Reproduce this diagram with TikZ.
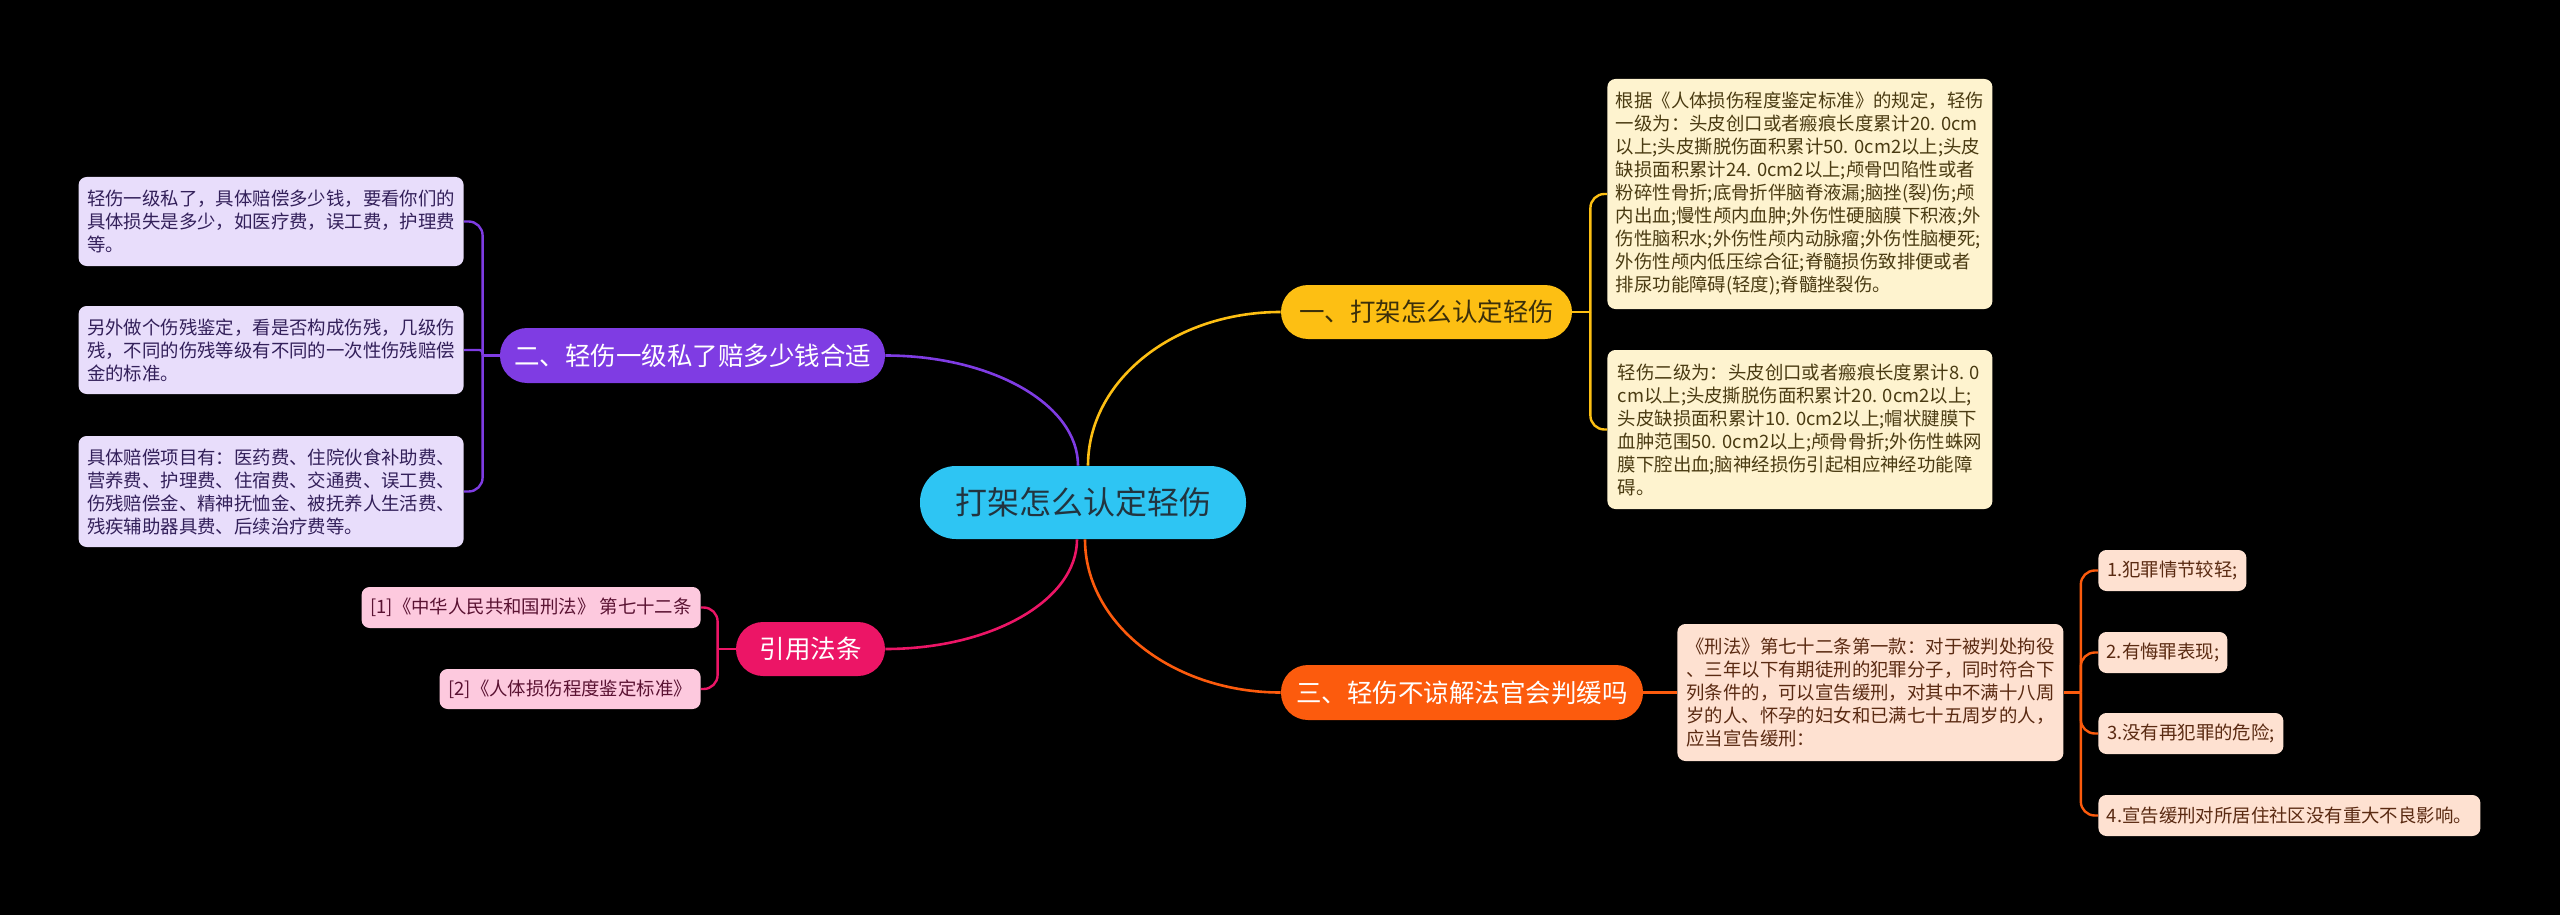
\documentclass[tikz,border=0pt]{standalone}
\usepackage{fontspec}
\setmainfont{Noto Sans CJK SC}
\definecolor{cyanc}{HTML}{2EC5F3}
\definecolor{cyanT}{HTML}{22343F}
\definecolor{yel}{HTML}{FDBF13}
\definecolor{yelT}{HTML}{3B2F0A}
\definecolor{pur}{HTML}{7F3CE3}
\definecolor{pnk}{HTML}{EC1566}
\definecolor{org}{HTML}{FC5B0D}
\definecolor{yelL}{HTML}{FEF3CF}
\definecolor{yelLT}{HTML}{4A3B12}
\definecolor{purL}{HTML}{E8DDFB}
\definecolor{purLT}{HTML}{33205A}
\definecolor{pnkL}{HTML}{FDC9DE}
\definecolor{pnkLT}{HTML}{5A1232}
\definecolor{orgL}{HTML}{FEE1D1}
\definecolor{orgLT}{HTML}{5A2A12}
\tikzset{
  leafbox/.style={rounded corners=4pt, inner xsep=4pt, inner ysep=0pt, align=left,
    font=\fontsize{9.2pt}{11.5pt}\selectfont},
  branchbox/.style={rounded corners=13.5pt, inner sep=0pt,
    font=\fontsize{12.75pt}{15pt}\selectfont},
  mainconn/.style={line width=1.3pt},
  brconn/.style={line width=1.2pt},
}
\begin{document}
\begin{tikzpicture}[x=0.5pt,y=-0.5pt]
\fill[black] (0,0) rectangle (2560,915);
\useasboundingbox (0,0) rectangle (2560,915);

% central and branch nodes
\node[fill=cyanc, text=cyanT, rounded corners=18pt, minimum width=163pt, minimum height=36.5pt,
  inner sep=0pt, font=\fontsize{16pt}{19pt}\selectfont] (c) at (1083,502.5) {打架怎么认定轻伤};
\node[branchbox, fill=yel, text=yelT, minimum width=145.5pt, minimum height=27pt] (n1) at (1426.5,312) {一、打架怎么认定轻伤};
\node[branchbox, fill=org, text=white, minimum width=181pt, minimum height=27.5pt] (n3) at (1462,692.5) {三、轻伤不谅解法官会判缓吗};
\node[branchbox, fill=pur, text=white, minimum width=192.5pt, minimum height=27.5pt] (n2) at (692.5,355.5) {二、轻伤一级私了赔多少钱合适};
\node[branchbox, fill=pnk, text=white, minimum width=74.5pt, minimum height=27pt] (n4) at (810.5,649) {引用法条};

% leaves of branch 1
\node[leafbox, fill=yelL, text=yelLT, anchor=west, minimum width=192.5pt, minimum height=115pt] (y1) at (1607,194)
{根据《人体损伤程度鉴定标准》的规定，轻伤\\一级为：头皮创口或者瘢痕长度累计20. 0cm\\以上;头皮撕脱伤面积累计50. 0cm2以上;头皮\\缺损面积累计24. 0cm2以上;颅骨凹陷性或者\\粉碎性骨折;底骨折伴脑脊液漏;脑挫(裂)伤;颅\\内出血;慢性颅内血肿;外伤性硬脑膜下积液;外\\伤性脑积水;外伤性颅内动脉瘤;外伤性脑梗死;\\外伤性颅内低压综合征;脊髓损伤致排便或者\\排尿功能障碍(轻度);脊髓挫裂伤。};
\node[leafbox, fill=yelL, text=yelLT, anchor=west, minimum width=192.5pt, minimum height=79.5pt] (y2) at (1607,429.5)
{轻伤二级为：头皮创口或者瘢痕长度累计8. 0\\cm以上;头皮撕脱伤面积累计20. 0cm2以上;\\头皮缺损面积累计10. 0cm2以上;帽状腱膜下\\血肿范围50. 0cm2以上;颅骨骨折;外伤性蛛网\\膜下腔出血;脑神经损伤引起相应神经功能障\\碍。};

% leaves of branch 2
\node[leafbox, fill=purL, text=purLT, anchor=east, minimum width=192.5pt, minimum height=44.5pt] (p1) at (464,221.5)
{轻伤一级私了，具体赔偿多少钱，要看你们的\\具体损失是多少，如医疗费，误工费，护理费\\等。};
\node[leafbox, fill=purL, text=purLT, anchor=east, minimum width=192.5pt, minimum height=44pt] (p2) at (464,350)
{另外做个伤残鉴定，看是否构成伤残，几级伤\\残，不同的伤残等级有不同的一次性伤残赔偿\\金的标准。};
\node[leafbox, fill=purL, text=purLT, anchor=east, minimum width=192.5pt, minimum height=55.5pt] (p3) at (464,491.5)
{具体赔偿项目有：医药费、住院伙食补助费、\\营养费、护理费、住宿费、交通费、误工费、\\伤残赔偿金、精神抚恤金、被抚养人生活费、\\残疾辅助器具费、后续治疗费等。};

% leaves of references
\node[leafbox, fill=pnkL, text=pnkLT, anchor=east, minimum width=169.5pt, minimum height=20.5pt] (k1) at (701,607.5)
{[1]《中华人民共和国刑法》 第七十二条};
\node[leafbox, fill=pnkL, text=pnkLT, anchor=east, minimum width=130.5pt, minimum height=20pt] (k2) at (701,689)
{[2]《人体损伤程度鉴定标准》};

% leaves of branch 3
\node[leafbox, fill=orgL, text=orgLT, anchor=west, minimum width=193pt, minimum height=68.5pt] (o1) at (1677,692.5)
{《刑法》第七十二条第一款：对于被判处拘役\\、三年以下有期徒刑的犯罪分子，同时符合下\\列条件的，可以宣告缓刑，对其中不满十八周\\岁的人、怀孕的妇女和已满七十五周岁的人，\\应当宣告缓刑：};
\node[leafbox, fill=orgL, text=orgLT, anchor=west, minimum width=74pt, minimum height=20.5pt] (c1) at (2098,570.5) {1.犯罪情节较轻;};
\node[leafbox, fill=orgL, text=orgLT, anchor=west, minimum width=64.5pt, minimum height=20.5pt] (c2) at (2098,652.5) {2.有悔罪表现;};
\node[leafbox, fill=orgL, text=orgLT, anchor=west, minimum width=92.5pt, minimum height=20.5pt] (c3) at (2098,733.5) {3.没有再犯罪的危险;};
\node[leafbox, fill=orgL, text=orgLT, anchor=west, minimum width=191pt, minimum height=20.5pt] (c4) at (2098,815.5) {4.宣告缓刑对所居住社区没有重大不良影响。};

% main connectors
\draw[mainconn, yel] ([xshift=2.5pt]c.north) .. controls +(0,-85) and +(-107,0) .. (n1.west);
\draw[mainconn, pur] ([xshift=-2.5pt]c.north) .. controls +(0,-61) and +(107,0) .. (n2.east);
\draw[mainconn, pnk] ([xshift=-3pt]c.south) .. controls +(0,61) and +(106,0) .. (n4.east);
\draw[mainconn, org] ([xshift=1pt]c.south) .. controls +(0,84) and +(-108,0) .. (n3.west);

% bracket of branch 1
\coordinate (j1) at ([xshift=9pt]n1.east);
\draw[brconn, yel] (n1.east) -- (j1);
\draw[brconn, yel, rounded corners=7pt] (j1) |- (y1.west);
\draw[brconn, yel, rounded corners=7pt] (j1) |- (y2.west);

% bracket of branch 2
\coordinate (j2) at ([xshift=-8.5pt]n2.west);
\draw[brconn, pur] (n2.west) -- (j2);
\draw[brconn, pur, rounded corners=7pt] (j2) |- (p1.east);
\draw[brconn, pur, rounded corners=1.5pt] (j2) |- (p2.east);
\draw[brconn, pur, rounded corners=7pt] (j2) |- (p3.east);

% bracket of references
\coordinate (j4) at ([xshift=-9pt]n4.west);
\draw[brconn, pnk] (n4.west) -- (j4);
\draw[brconn, pnk, rounded corners=7pt] (j4) |- (k1.east);
\draw[brconn, pnk, rounded corners=7pt] (j4) |- (k2.east);

% branch 3
\draw[brconn, org] (n3.east) -- (o1.west);
\coordinate (j5) at ([xshift=8.5pt]o1.east);
\draw[brconn, org] (o1.east) -- (j5);
\draw[brconn, org, rounded corners=7pt] (j5) |- (c1.west);
\draw[brconn, org, rounded corners=7pt] (j5) |- (c2.west);
\draw[brconn, org, rounded corners=7pt] (j5) |- (c3.west);
\draw[brconn, org, rounded corners=7pt] (j5) |- (c4.west);
\end{tikzpicture}
\end{document}
